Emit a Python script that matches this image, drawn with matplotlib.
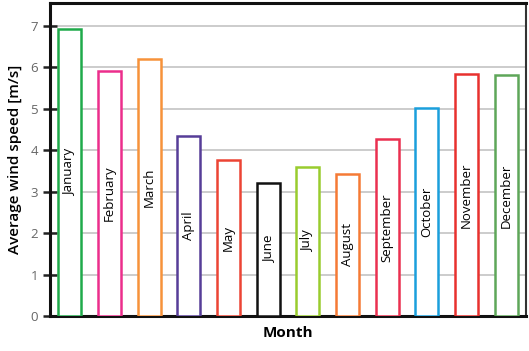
import matplotlib
matplotlib.use("Agg")
import matplotlib.pyplot as plt

months = ["January", "February", "March", "April", "May", "June", "July",
          "August", "September", "October", "November", "December"]
speeds = [6.92, 5.92, 6.19, 4.34, 3.76, 3.21, 3.60, 3.43, 4.27, 5.01, 5.84, 5.82]
colors = ["#1faa4a", "#ec2e8c", "#f7923a", "#563d98", "#ec4434", "#111111",
          "#99cc2e", "#f57a35", "#ea3050", "#1a9fdc", "#e8312e", "#5ea659"]
yticks = [0, 1, 2, 3, 4, 5, 6, 7]

plt.rcParams['font.family'] = ['Open Sans', 'DejaVu Sans']
fig = plt.figure(figsize=(5.29, 3.51), dpi=100)
ax = fig.add_axes([50/529, 1 - 316/351, 476/529, 313/351])

x = list(range(len(months)))
ax.bar(x, speeds, width=0.58, facecolor="white", edgecolor=colors, linewidth=1.8, zorder=3)
for xi, m, v in zip(x, months, speeds):
    ax.text(xi, v / 2, m, rotation=90, ha="center", va="center", fontsize=9.5,
            fontweight="medium", color="black", zorder=4)

ax.set_xlim(-0.5, len(months) - 0.5)
ax.set_ylim(0, 7.55)
ax.set_yticks(yticks)
ax.set_xticks([])
ax.yaxis.grid(True, color="#c8c8c8", linewidth=1.3, linestyle="-", zorder=0)
ax.tick_params(axis="y", direction="inout", length=10, width=1.8, colors="#222222",
               labelcolor="#666666", labelsize=9.5)
for s in ["left", "bottom", "top"]:
    ax.spines[s].set_linewidth(2.2)
    ax.spines[s].set_color("#111111")
ax.spines["right"].set_linewidth(1.5)
ax.spines["right"].set_color("#333333")
ax.spines["right"].set_linestyle((0, (1, 1)))
ax.set_ylabel("Average wind speed [m/s]", fontsize=11, fontweight="semibold", labelpad=6)
ax.set_xlabel("Month", fontsize=11, fontweight="bold", labelpad=7)

fig.savefig("out.png", dpi=100)
